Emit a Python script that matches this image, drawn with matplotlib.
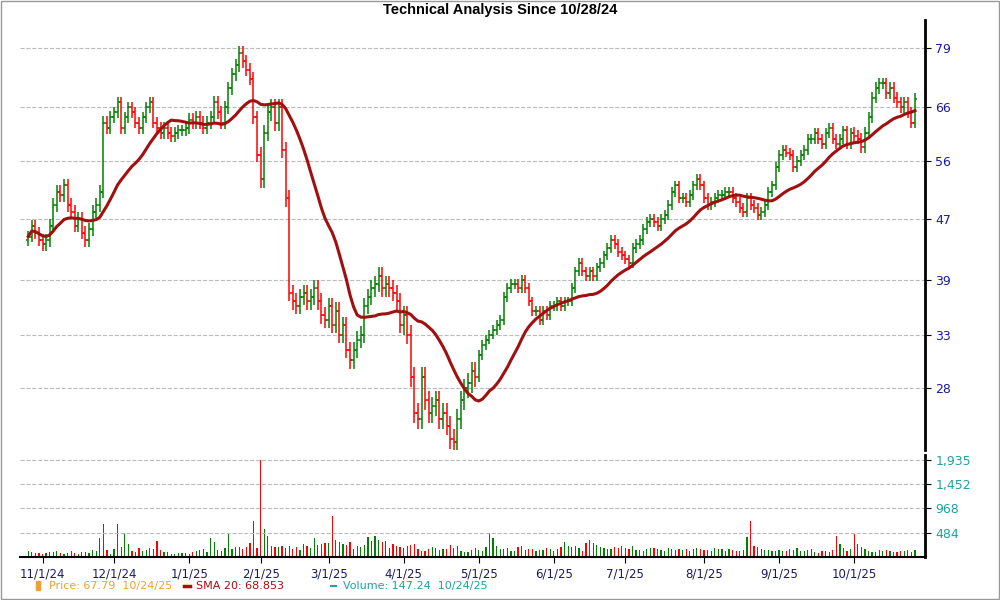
import numpy as np
import pandas as pd
import matplotlib
matplotlib.use("Agg")
import matplotlib.pyplot as plt

# ---- data ----
holidays = ["2024-11-28", "2024-12-25", "2025-01-01", "2025-01-09", "2025-01-20", "2025-02-17",
            "2025-04-18", "2025-05-26", "2025-06-19", "2025-07-04", "2025-09-01"]
closes = [
    44.5, 46, 45, 44, 43.5,
    44, 46, 49, 51, 50.5,
    52, 49, 48, 46, 47,
    45, 44, 45.5, 48, 49,
    51, 63, 62, 64,
    65, 67, 62, 64, 66,
    65, 63, 62, 64, 66,
    67, 63, 62, 61, 62,
    61, 60.5, 61, 61.5,
    61.5, 62, 63.5, 63,
    64, 63, 62, 63,
    64, 67, 65, 63, 66,
    70, 73, 75, 78,
    76, 74, 72, 64, 57,
    53, 61, 65, 66, 63,
    66, 58, 50, 37.5, 36.5,
    36, 37, 37.5, 36.5,
    37, 38, 36.5, 35, 34.5,
    36, 34, 35.5, 33, 34,
    31.5, 30.5, 31.5, 32.5, 33,
    36, 37, 38, 38.5, 39.5,
    38, 38.5, 38, 37.5, 36.5,
    34, 35, 33, 29, 26,
    25.5, 29, 27, 26, 26.5,
    27, 25.5, 26, 25,
    24, 23.8, 25.5, 27, 28,
    28.5, 29.5, 29, 31, 32,
    32.5, 33, 33.5, 34, 34.5,
    37, 38, 38.5, 38.5, 38,
    39, 38, 36.5, 35.5, 35.5,
    34.5, 35.5, 35, 36,
    36, 36.5, 36, 36.5, 36.5,
    38, 40, 41, 40, 39.5,
    40, 39.5, 40.5, 41,
    42, 43, 44, 43.5, 42.5,
    42, 41.5, 41, 43,
    43.5, 44, 45.5, 46.5, 47,
    46.5, 46, 47, 47.5, 49,
    51, 52, 50, 50, 49.5,
    50.5, 52, 53, 52, 50,
    49, 49.5, 50, 50.5, 50.5,
    51, 51, 50, 49.5, 48.5,
    48, 50, 49, 48.5, 47.5,
    48, 49, 51, 52, 55,
    57, 58, 57.5, 57,
    55, 56, 57, 58, 60,
    60, 61, 60, 59, 61,
    62, 60, 59, 60, 61.5,
    59, 61, 60.5, 60, 58.5,
    61, 64, 68, 70, 71,
    71, 69, 70, 68, 67,
    66, 67, 65, 63, 67.79,
]
volumes = [
    120, 90, 80, 70, 60,
    80, 90, 100, 110, 70,
    60, 80, 120, 70, 60,
    90, 100, 80, 140, 120,
    380, 650, 140, 60,
    150, 660, 200, 480, 250,
    120, 90, 170, 110, 130,
    180, 150, 310, 140, 100,
    90, 60, 50, 70,
    70, 80, 60, 90,
    120, 130, 150, 90,
    380, 300, 140, 120, 180,
    480, 150, 200, 190,
    160, 190, 280, 720, 180,
    1935, 560, 420, 220, 190,
    200, 210, 180, 220,
    150, 190, 130, 250, 210,
    170, 380, 240, 260, 270,
    280, 820, 330, 300, 250,
    230, 300, 160, 220, 190,
    240, 400, 310, 420, 330,
    300, 310, 170, 250, 210,
    190, 170, 210, 230,
    260, 150, 110, 120, 160,
    200, 170, 130, 160, 150,
    230, 180, 210, 120, 100,
    90, 140, 170, 130, 120,
    200, 480, 380, 220, 160,
    150, 170, 120, 110,
    200, 210, 130, 160, 150,
    120, 140, 130, 180, 150,
    120, 160, 200, 300,
    220, 200, 220, 170, 120,
    280, 330, 270, 240,
    200, 180, 160, 150, 200,
    180, 220, 170, 160, 210,
    140, 130, 120, 150, 170,
    180, 160, 140, 120, 170,
    150, 130, 150, 140, 160,
    120, 150, 170, 160, 140,
    130, 120, 170, 160, 150,
    110, 150, 130, 120, 110,
    140, 400, 720, 220, 190,
    150, 140, 130, 120,
    110, 140, 120, 110, 160,
    130, 170, 120, 110, 130,
    150, 100, 80, 120, 110,
    90, 140, 420, 250, 170,
    120, 160, 460, 260, 190,
    150, 120, 100, 90, 130,
    110, 140, 120, 100, 90,
    120, 110, 130, 100, 147.24,
]
first_open = 44.0
# typical daily range fraction per month
month_range = {10: 0.035, 11: 0.04, 12: 0.035, 1: 0.04, 2: 0.05, 3: 0.05, 4: 0.06,
               5: 0.03, 6: 0.03, 7: 0.03, 8: 0.03, 9: 0.03}

dates = pd.bdate_range("2024-10-28", "2025-10-24")
dates = dates[~dates.isin(pd.to_datetime(holidays))]
n = min(len(dates), len(closes), len(volumes))
dates = dates[-n:]
c = np.array(closes[-n:], float)
v = np.array(volumes[-n:], float)
o = np.concatenate([[first_open], c[:-1]])
rng = np.array([month_range[d.month] for d in dates])
hi = np.maximum(o, c) * (1 + rng / 2)
lo = np.minimum(o, c) * (1 - rng / 2)
sma = pd.Series(c).rolling(20, min_periods=1).mean().values
x = np.arange(n)
up = c >= o
GREEN, RED = "#008000", "#ff0000"

fig = plt.figure(figsize=(10, 6), dpi=100)
fig.patches.append(plt.Rectangle((0.001, 0.001), 0.998, 0.998, transform=fig.transFigure,
                                 fill=False, edgecolor="#999999", lw=1))
fig.text(0.5, 0.983, "Technical Analysis Since 10/28/24", ha="center", va="center",
         fontsize=10.5, fontweight="bold", family="Liberation Sans")

xlo, xhi = x[0] - 2.3, x[-1] + 2.8
ax = fig.add_axes([0.02, 0.25, 0.905, 0.717])
for i in range(n):
    col = GREEN if up[i] else RED
    ax.vlines(x[i], lo[i], hi[i], color=col, lw=1.1)
    ax.hlines(o[i], x[i] - 0.6, x[i], color=col, lw=1.1)
    ax.hlines(c[i], x[i], x[i] + 0.6, color=col, lw=1.1)
ax.plot(x, sma, color="#a01010", lw=2.2)
ax.set_yscale("log")
ax.set_ylim(23.2, 86.2)
ax.set_xlim(xlo, xhi)
pt = [28, 33, 39, 47, 56, 66, 79]
ax.set_yticks(pt)
ax.set_yticklabels([str(t) for t in pt])
ax.yaxis.set_minor_locator(matplotlib.ticker.NullLocator())
ax.yaxis.tick_right()
ax.tick_params(axis="y", colors="#000000", labelcolor="#1a1aa6", labelsize=9, length=4, direction="out")
ax.set_xticks([])
for s in ["top", "left", "bottom"]:
    ax.spines[s].set_visible(False)
ax.spines["right"].set_linewidth(2)
ax.grid(axis="y", color="#bbbbbb", ls="--", lw=0.8)

month_first = [i for i in range(1, n) if dates[i].month != dates[i - 1].month]
labels = [f"{dates[i].month}/1/{dates[i].year % 100}" for i in month_first]

axv = fig.add_axes([0.02, 0.0717, 0.905, 0.170])
axv.bar(x, v, width=0.35, color=np.where(up, GREEN, RED))
axv.set_xlim(xlo, xhi)
axv.set_ylim(0, 2030)
vt = [484, 968, 1452, 1935]
axv.set_yticks(vt)
axv.set_yticklabels([f"{t:,}" for t in vt])
axv.yaxis.tick_right()
axv.tick_params(axis="y", labelcolor="#20a0a0", labelsize=9, length=4)
axv.grid(axis="y", color="#bbbbbb", ls="--", lw=0.8)
axv.set_xticks(month_first)
axv.set_xticklabels(labels, fontsize=8.5, color="#1a1a66")
axv.tick_params(axis="x", length=4)
for s in ["top", "left"]:
    axv.spines[s].set_visible(False)
axv.spines["right"].set_linewidth(2)
axv.spines["bottom"].set_linewidth(1.5)

fig.patches.append(plt.Rectangle((0.036, 0.016), 0.004, 0.015, transform=fig.transFigure,
                                 color="#f0a030"))
fig.text(0.049, 0.023, f"Price: {c[-1]:.2f}  10/24/25", color="#f0a030", fontsize=8, va="center")
fig.lines.append(plt.Line2D([0.184, 0.190], [0.023, 0.023], transform=fig.transFigure,
                            color="#c00000", lw=2.5))
fig.text(0.196, 0.023, "SMA 20: 68.853", color="#a01010", fontsize=8, va="center")
fig.lines.append(plt.Line2D([0.331, 0.336], [0.023, 0.023], transform=fig.transFigure,
                            color="#20a0a0", lw=1.5))
fig.text(0.343, 0.023, f"Volume: {v[-1]:.2f}  10/24/25", color="#20a0a0", fontsize=8, va="center")

fig.savefig("out.png", dpi=100)
